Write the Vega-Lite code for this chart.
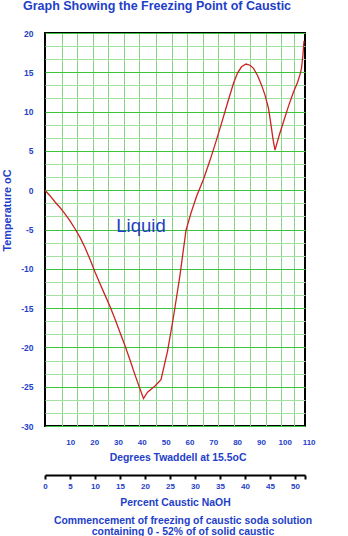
{
  "$schema": "https://vega.github.io/schema/vega-lite/v6.json",
  "width": 260,
  "height": 393,
  "autosize": {"type": "none"},
  "padding": {"left": 45, "top": 33, "right": 43, "bottom": 110},
  "background": "white",
  "title": {
    "text": "Graph Showing the Freezing Point of Caustic",
    "anchor": "start",
    "frame": "group",
    "dx": -22,
    "offset": 7,
    "baseline": "alphabetic",
    "font": "Liberation Sans",
    "fontSize": 12.5,
    "fontWeight": "bold",
    "color": "#1e40c8"
  },
  "config": {
    "view": {"stroke": "black", "strokeWidth": 2},
    "font": "Liberation Sans"
  },
  "resolve": {"scale": {"x": "independent"}},
  "layer": [
    {
      "data": {"values": [{"v": 0}]},
      "mark": {"type": "point", "opacity": 0},
      "encoding": {
        "x": {
          "field": "v",
          "type": "quantitative",
          "scale": {"domain": [0, 52], "nice": false, "zero": false},
          "axis": {
            "orient": "bottom",
            "grid": true,
            "gridColor": "#86d486",
            "gridWidth": 1,
            "gridOpacity": 1,
            "tickCount": 200,
            "values": [3.3, 6.4, 9.5, 12.6, 15.7, 18.8, 22.1, 25.3, 28.4, 31.6, 34.6, 37.7, 40.9, 44.1, 47.2, 49.8],
            "domain": false,
            "ticks": false,
            "labels": false,
            "title": null
          }
        }
      }
    },
    {
      "data": {
        "values": [
          {"pct": 0, "t": 0}, {"pct": 1, "t": -0.7}, {"pct": 2, "t": -1.5}, {"pct": 3, "t": -2.2},
          {"pct": 4, "t": -3.0}, {"pct": 5, "t": -3.9}, {"pct": 6, "t": -4.9}, {"pct": 7, "t": -6.0},
          {"pct": 8, "t": -7.3}, {"pct": 9, "t": -8.8}, {"pct": 10, "t": -10.4}, {"pct": 11, "t": -11.9},
          {"pct": 12, "t": -13.35}, {"pct": 13, "t": -14.8}, {"pct": 14, "t": -16.4}, {"pct": 15, "t": -18.1},
          {"pct": 16, "t": -19.8}, {"pct": 17, "t": -21.6}, {"pct": 18, "t": -23.5}, {"pct": 19, "t": -25.3},
          {"pct": 19.7, "t": -26.5}, {"pct": 20.5, "t": -25.7}, {"pct": 22, "t": -24.9}, {"pct": 23.2, "t": -24.1},
          {"pct": 24.5, "t": -20.5}, {"pct": 25.7, "t": -16.1}, {"pct": 27, "t": -10.8}, {"pct": 28.2, "t": -5.1},
          {"pct": 29.2, "t": -2.9}, {"pct": 30.3, "t": -0.8}, {"pct": 31.7, "t": 1.4}, {"pct": 33, "t": 3.8},
          {"pct": 34.3, "t": 6.4}, {"pct": 35.3, "t": 8.5}, {"pct": 36.5, "t": 11.1}, {"pct": 37.7, "t": 13.6},
          {"pct": 38.5, "t": 14.9}, {"pct": 39.3, "t": 15.7}, {"pct": 40.2, "t": 16.05}, {"pct": 41, "t": 15.9},
          {"pct": 41.7, "t": 15.5}, {"pct": 42.5, "t": 14.6}, {"pct": 43.3, "t": 13.4}, {"pct": 44, "t": 12.1},
          {"pct": 44.7, "t": 10.4}, {"pct": 45.2, "t": 8.3}, {"pct": 45.6, "t": 6.5}, {"pct": 46, "t": 5.1},
          {"pct": 46.8, "t": 6.9}, {"pct": 47.7, "t": 8.7}, {"pct": 48.7, "t": 10.7}, {"pct": 49.7, "t": 12.5},
          {"pct": 50.5, "t": 13.7}, {"pct": 51, "t": 14.7}, {"pct": 51.3, "t": 15.5}, {"pct": 51.6, "t": 17.3},
          {"pct": 51.8, "t": 19.0}
        ]
      },
      "layer": [
        {
          "mark": {"type": "line", "color": "#cc2222", "strokeWidth": 1.3},
          "encoding": {
            "x": {
              "field": "pct",
              "type": "quantitative",
              "scale": {"domain": [0, 52], "nice": false, "zero": false},
              "axis": {
                "orient": "bottom",
                "offset": 49,
                "tickCount": 200,
                "values": [0, 5, 10, 15, 20, 25, 30, 35, 40, 45, 50, 52],
                "format": "d",
                "labelExpr": "datum.value == 52 ? '' : datum.label",
                "grid": false,
                "domain": true,
                "domainColor": "black",
                "domainWidth": 2,
                "ticks": true,
                "tickColor": "black",
                "tickWidth": 2,
                "tickSize": 4,
                "labelPadding": 3.5,
                "labelFont": "Liberation Sans",
                "labelFontSize": 8,
                "labelFontWeight": "bold",
                "labelColor": "#1e40c8",
                "labelFlush": false,
                "labelOverlap": false,
                "title": "Percent Caustic NaOH",
                "titleFont": "Liberation Sans",
                "titleFontSize": 10.4,
                "titleFontWeight": "bold",
                "titleColor": "#1e40c8",
                "titleY": 22
              }
            },
            "y": {
              "field": "t",
              "type": "quantitative",
              "scale": {"domain": [-30, 20], "nice": false, "zero": false},
              "axis": {
                "orient": "left",
                "tickCount": 200,
                "values": [-30, -28.3333, -26.6667, -25, -23.3333, -21.6667, -20, -18.3333, -16.6667, -15, -13.3333, -11.6667, -10, -8.3333, -6.6667, -5, -3.3333, -1.6667, 0, 1.6667, 3.3333, 5, 6.6667, 8.3333, 10, 11.6667, 13.3333, 15, 16.6667, 18.3333, 20],
                "labelExpr": "abs(datum.value % 5) < 0.01 ? '' + round(datum.value) : ''",
                "grid": true,
                "gridColor": {"condition": {"test": "abs(datum.value % 5) < 0.01", "value": "#3cc43c"}, "value": "#a2e0a2"},
                "gridWidth": 1,
                "gridOpacity": 1,
                "domain": false,
                "ticks": false,
                "tickSize": 0,
                "labelPadding": 12,
                "labelFont": "Liberation Sans",
                "labelFontSize": 8.5,
                "labelFontWeight": "bold",
                "labelColor": "#1e40c8",
                "labelFlush": false,
                "labelOverlap": false,
                "title": "Temperature oC",
                "titleFont": "Liberation Sans",
                "titleFontSize": 10.8,
                "titleFontWeight": "bold",
                "titleColor": "#1e40c8",
                "titleX": -35,
                "titleY": 177,
                "titleBaseline": "alphabetic",
                "titleAngle": 270
              }
            }
          }
        },
        {
          "data": {"values": [{"label": "Liquid", "pct": 19.2, "t": -5.3}]},
          "mark": {"type": "text", "font": "Liberation Sans", "fontSize": 18.5, "color": "#2040c0", "baseline": "alphabetic", "align": "center"},
          "encoding": {
            "x": {"field": "pct", "type": "quantitative"},
            "y": {"field": "t", "type": "quantitative"},
            "text": {"field": "label"}
          }
        }
      ]
    },
    {
      "data": {"values": [{"v": 0}]},
      "mark": {"type": "point", "opacity": 0},
      "encoding": {
        "x": {
          "field": "v",
          "type": "quantitative",
          "scale": {"domain": [0, 110], "range": [1.5, 263.6], "nice": false, "zero": false},
          "axis": {
            "orient": "bottom",
            "tickCount": 200,
            "values": [10, 20, 30, 40, 50, 60, 70, 80, 90, 100, 110],
            "format": "d",
            "grid": false,
            "domain": false,
            "ticks": false,
            "tickSize": 0,
            "labelPadding": 12.7,
            "labelFont": "Liberation Sans",
            "labelFontSize": 8,
            "labelFontWeight": "bold",
            "labelColor": "#1e40c8",
            "labelFlush": false,
            "labelOverlap": false,
            "title": "Degrees Twaddell at 15.5oC",
            "titleFont": "Liberation Sans",
            "titleFontSize": 10.4,
            "titleFontWeight": "bold",
            "titleColor": "#1e40c8",
            "titleY": 26.5
          }
        }
      }
    },
    {
      "data": {"values": [{"v": 0}]},
      "mark": {"type": "point", "opacity": 0},
      "encoding": {
        "x": {
          "field": "v",
          "type": "quantitative",
          "scale": {"domain": [0, 1], "nice": false},
          "axis": {
            "orient": "bottom",
            "grid": false,
            "domain": false,
            "ticks": false,
            "labels": false,
            "title": ["Commencement of freezing of caustic soda solution", "containing 0 - 52%  of of solid caustic"],
            "titleFont": "Liberation Sans",
            "titleFontSize": 10.4,
            "titleFontWeight": "bold",
            "titleColor": "#1e40c8",
            "titleLineHeight": 11.3,
            "titleX": 137.5,
            "titleY": 89.2
          }
        }
      }
    }
  ]
}
